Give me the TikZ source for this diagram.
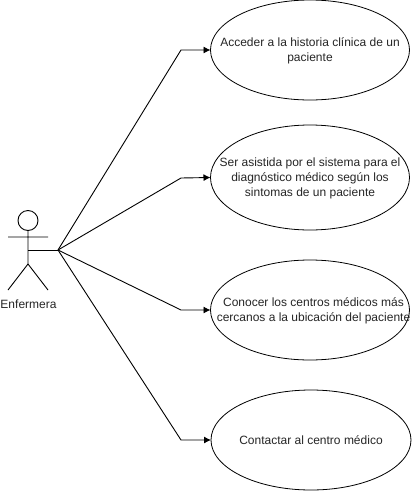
\documentclass[tikz,border=0pt]{standalone}
\usepackage{fontspec}
\setmainfont{Liberation Sans}
\usetikzlibrary{arrows.meta,shapes.geometric}
\newcommand{\uctext}[2][0pt]{\hspace*{#1}\makebox[0pt][c]{\smash{\raisebox{-4pt}{\begin{tabular}{@{}c@{}}#2\end{tabular}}}}}
\tikzset{
  usecase/.style={draw=black,line width=0.8pt,fill=white,ellipse,inner sep=0pt,outer sep=0pt,minimum width=199pt,minimum height=#1,font=\fontsize{12pt}{15pt}\selectfont,text=black!85},
  usecase/.default=100pt,
  link/.style={draw=black,line width=0.9pt,-{Latex[length=7pt,width=7pt]}},
  limb/.style={draw=black,line width=0.9pt}
}
\begin{document}
\begin{tikzpicture}[x=1pt,y=-1pt]
\useasboundingbox (0,0) rectangle (417,491);
\fill[white] (0,0) rectangle (417,491);
% actor
\node[draw=black,line width=0.9pt,circle,minimum size=20pt,inner sep=0pt,outer sep=0pt] (head) at (28,220.5) {};
\coordinate (armL) at (8,237);
\coordinate (armR) at (48,237);
\coordinate (hip) at (28,264);
\coordinate (footL) at (8,290);
\coordinate (footR) at (48,290);
\coordinate (waist) at (28,250);
\coordinate (hub) at (58,250);
\draw[limb] (head.south) -- (hip) (armL) -- (armR) (footL) -- (hip) -- (footR);
\node[font=\fontsize{12pt}{15pt}\selectfont,text=black!85,inner sep=0pt] (actorlabel) at (28.5,304) {Enfermera};
% use cases
\node[usecase] (u1) at (310,50) {\uctext{Acceder a la historia clínica de un\\paciente}};
\node[usecase=105pt] (u2) at (310,177.5) {\uctext{Ser asistida por el sistema para el\\diagnóstico médico según los\\sintomas de un paciente}};
\node[usecase] (u3) at (310,310) {\uctext[7pt]{Conocer los centros médicos más\\cercanos a la ubicación del paciente}};
\node[usecase,minimum width=200pt] (u4) at (311,440) {\uctext{Contactar al centro médico}};
% connectors
\coordinate (e1) at (181,50);
\coordinate (e2) at (181,178);
\coordinate (e3) at (181,310);
\coordinate (e4) at (181,440);
\draw[limb] (waist) -- (hub);
\draw[link] (hub) -- (e1) -- (u1.west);
\draw[link] (hub) -- (e2) -- (u2.west);
\draw[link] (hub) -- (e3) -- (u3.west);
\draw[link] (hub) -- (e4) -- (u4.west);
\end{tikzpicture}
\end{document}
